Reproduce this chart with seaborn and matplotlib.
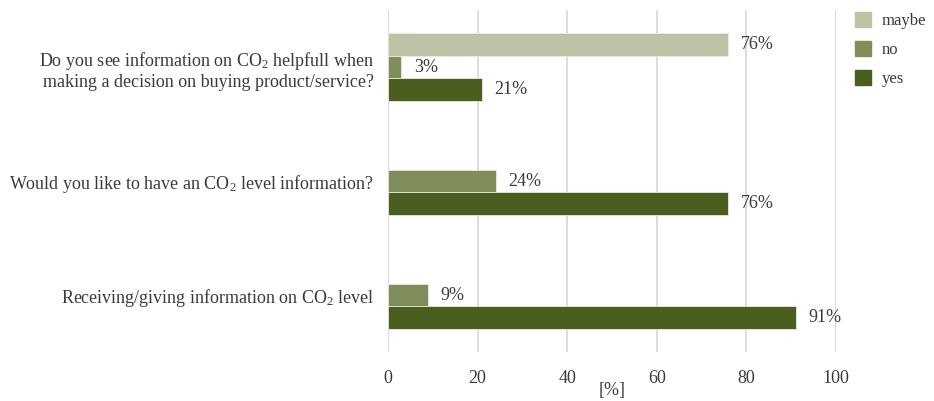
import matplotlib
matplotlib.use("Agg")
import matplotlib.pyplot as plt
import seaborn as sns
import pandas as pd

questions = [
    "Do you see information on CO$_2$ helpfull when\nmaking a decision on buying product/service?",
    "Would you like to have an CO$_2$ level information?",
    "Receiving/giving information on CO$_2$ level",
]
answers = ["maybe", "no", "yes"]
maybe_vals = [76, None, None]
no_vals = [3, 24, 9]
yes_vals = [21, 76, 91]
x_ticks = [0, 20, 40, 60, 80, 100]

colors = {"maybe": "#bcc3a6", "no": "#808d5b", "yes": "#4a5f1f"}
text_color = "#3a3a3a"
fs = 13

rows = []
for q, m, n, y in zip(questions, maybe_vals, no_vals, yes_vals):
    for a, v in zip(answers, (m, n, y)):
        if v is not None:
            rows.append({"question": q, "answer": a, "value": v})
df = pd.DataFrame(rows)

sns.set_theme(style="white")
plt.rcParams["font.family"] = ["Liberation Serif", "DejaVu Serif"]
plt.rcParams["mathtext.fontset"] = "custom"
plt.rcParams["mathtext.rm"] = "Liberation Serif"
plt.rcParams["mathtext.it"] = "Liberation Serif:italic"
plt.rcParams["mathtext.bf"] = "Liberation Serif:bold"
plt.rcParams["text.color"] = text_color
plt.rcParams["xtick.color"] = text_color
plt.rcParams["ytick.color"] = text_color

fig = plt.figure(figsize=(9.34, 4.01), dpi=100)
ax = fig.add_axes([388 / 934, 1 - 352 / 401, 448 / 934, 342 / 401])

sns.barplot(
    data=df, y="question", x="value", hue="answer",
    order=questions, hue_order=answers, palette=colors,
    orient="h", width=0.6, errorbar=None, ax=ax, legend=False,
    saturation=1, linewidth=0.6, edgecolor="#e8ebe0",
)

for cont in ax.containers:
    ax.bar_label(cont, fmt="%g%%", padding=9, fontsize=fs, color=text_color)

ax.set_xlim(0, 100)
ax.set_ylim(2.5, -0.5)
ax.set_xticks(x_ticks)
ax.xaxis.grid(True, color="#dcdcdc", linewidth=1.4)
ax.set_axisbelow(True)
for s in ax.spines.values():
    s.set_visible(False)
ax.tick_params(axis="both", length=0, labelsize=fs)
ax.tick_params(axis="x", pad=13)
ax.tick_params(axis="y", pad=10)
ax.set_ylabel("")
ax.set_xlabel("[%]", fontsize=fs, color=text_color, labelpad=-4)

handles = [plt.Rectangle((0, 0), 1, 1, color=colors[a]) for a in answers]
fig.legend(
    handles, answers, loc="upper left", bbox_to_anchor=(843 / 934, 1.0),
    frameon=False, fontsize=12, handlelength=1.0, handleheight=1.0,
    labelspacing=0.72, handletextpad=0.6, borderaxespad=0.3,
)

fig.savefig("out.png", dpi=100)
